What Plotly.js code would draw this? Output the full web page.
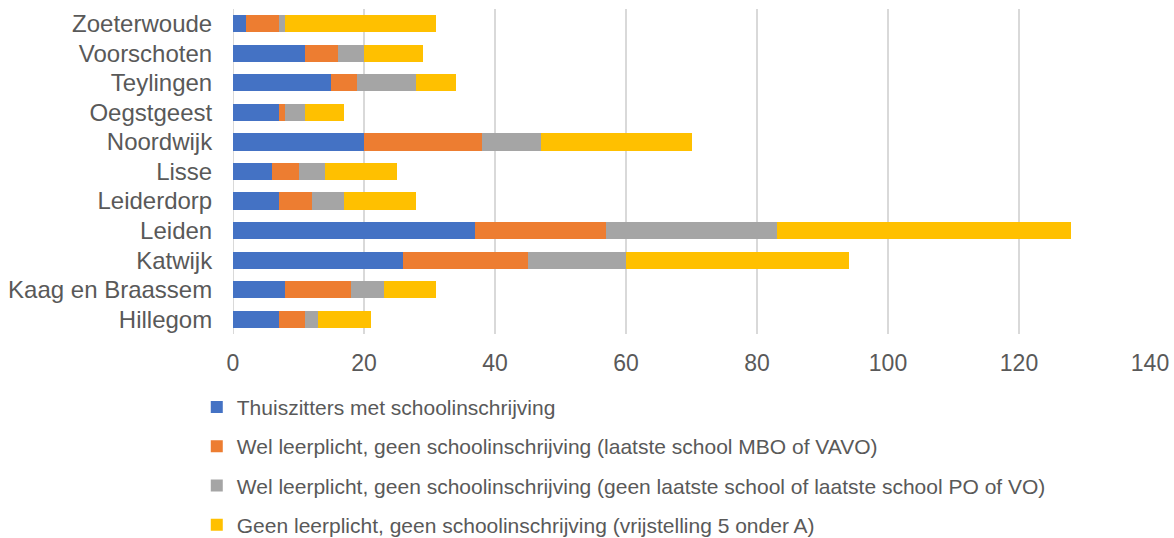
<!DOCTYPE html>
<html>
<head>
<meta charset="utf-8">
<script src="https://cdn.plot.ly/plotly-3.0.1.min.js"></script>
<style>html,body{margin:0;padding:0;background:#fff;}#chart{width:1174px;height:538px;}</style>
</head>
<body>
<div id="chart"></div>
<script>
const gemeenten = ["Hillegom","Kaag en Braassem","Katwijk","Leiden","Leiderdorp","Lisse","Noordwijk","Oegstgeest","Teylingen","Voorschoten","Zoeterwoude"];
const seriesNames = [
  "Thuiszitters met schoolinschrijving",
  "Wel leerplicht, geen schoolinschrijving (laatste school MBO of VAVO)",
  "Wel leerplicht, geen schoolinschrijving (geen laatste school of laatste school PO of VO)",
  "Geen leerplicht, geen schoolinschrijving (vrijstelling 5 onder A)"
];
const thuiszitters = [7, 8, 26, 37, 7, 6, 20, 7, 15, 11, 2];
const mboVavo      = [4, 10, 19, 20, 5, 4, 18, 1, 4, 5, 5];
const poVo         = [2, 5, 15, 26, 5, 4, 9, 3, 9, 4, 1];
const vrijstelling = [8, 8, 34, 45, 11, 11, 23, 6, 6, 9, 23];
const xTicks = [0, 20, 40, 60, 80, 100, 120, 140];
const colors = ["#4472C4", "#ED7D31", "#A5A5A5", "#FFC000"];
const values = [thuiszitters, mboVavo, poVo, vrijstelling];

const traces = values.map((v, i) => ({
  type: "bar",
  orientation: "h",
  y: gemeenten,
  x: v,
  name: seriesNames[i],
  legendgroup: "g" + i,
  marker: {color: colors[i], line: {width: 0}},
  hoverinfo: "x+y+name"
}));

const layout = {
  width: 1174,
  height: 538,
  margin: {l: 233, r: 24, t: 9, b: 204, autoexpand: false},
  paper_bgcolor: "#fff",
  plot_bgcolor: "#fff",
  barmode: "stack",
  bargap: 0.42,
  font: {family: "Liberation Sans, Arial, sans-serif", color: "#595959"},
  xaxis: {
    range: [0, 140],
    tickmode: "array",
    tickvals: xTicks,
    ticktext: xTicks.map(String),
    showgrid: true,
    gridcolor: "#D9D9D9",
    gridwidth: 2,
    zeroline: false,
    showline: false,
    ticks: "outside",
    ticklen: 8,
    tickcolor: "rgba(0,0,0,0)",
    tickfont: {size: 23, color: "#595959"},
    fixedrange: true
  },
  yaxis: {
    type: "category",
    categoryorder: "array",
    categoryarray: gemeenten,
    tickmode: "array",
    tickvals: gemeenten,
    ticktext: gemeenten,
    showgrid: false,
    zeroline: false,
    showline: false,
    ticks: "outside",
    ticklen: 15,
    tickcolor: "rgba(0,0,0,0)",
    tickfont: {size: 24, color: "#595959"},
    fixedrange: true
  },
  shapes: [{
    type: "line", xref: "x", yref: "paper", x0: 0, x1: 0, y0: 0, y1: 1,
    line: {color: "#D9D9D9", width: 2}, layer: "below"
  }],
  showlegend: true,
  legend: {
    orientation: "v",
    x: -0.0395,
    xanchor: "left",
    yref: "container",
    y: 0.281,
    yanchor: "top",
    traceorder: "grouped",
    tracegroupgap: 9,
    font: {size: 21, color: "#595959"},
    itemwidth: 30,
    bgcolor: "rgba(0,0,0,0)"
  }
};

Plotly.newPlot("chart", traces, layout, {displayModeBar: false, staticPlot: true});
</script>
</body>
</html>
